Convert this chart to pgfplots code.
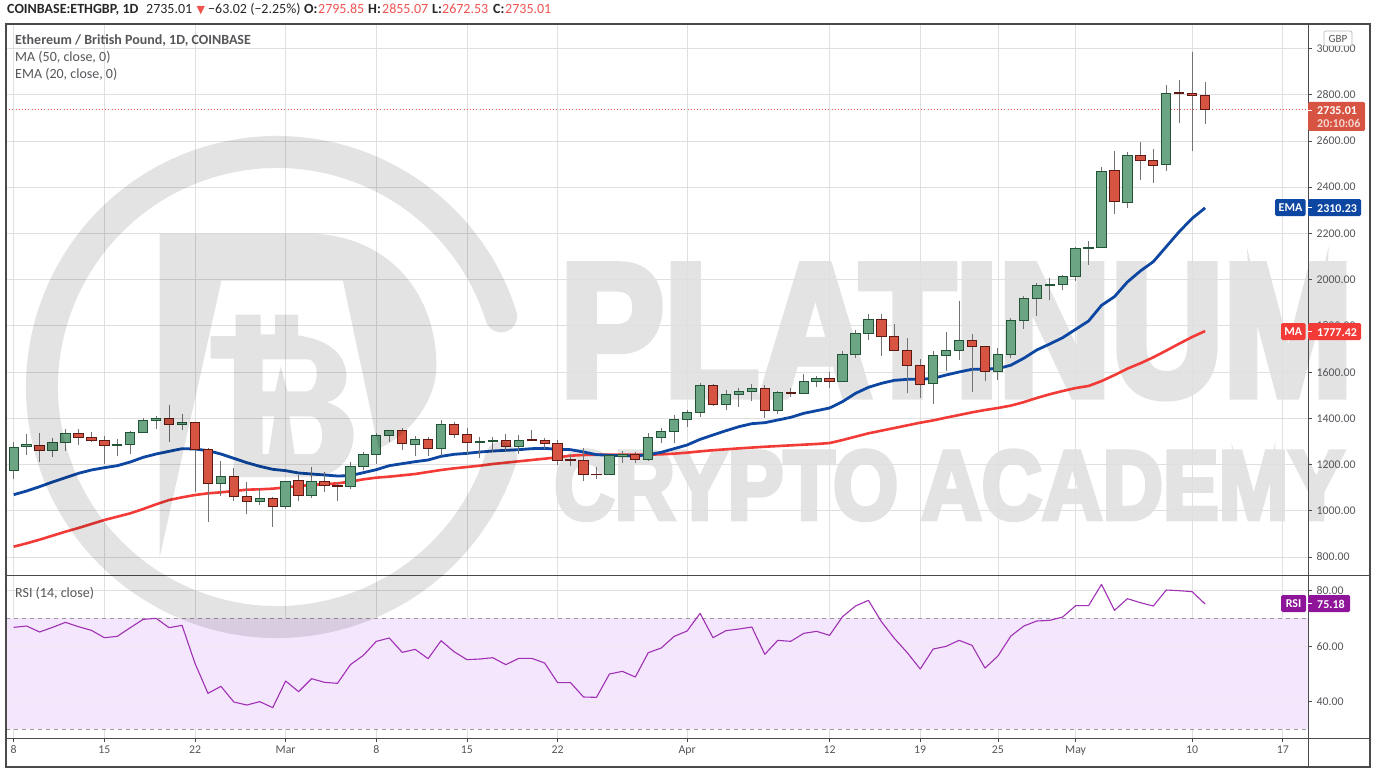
\documentclass[border=0pt]{standalone}
\usepackage{fontspec}
\setmainfont{Carlito}
\newfontfamily\wmfont{Liberation Sans}[FakeBold=5]
\newfontfamily\symfont{DejaVu Sans}
\usepackage{pgfplots}
\usepackage{pgfplotstable}
\pgfplotsset{compat=1.18}
\definecolor{upf}{HTML}{6BA583}
\definecolor{upd}{HTML}{225437}
\definecolor{dnf}{HTML}{D75442}
\definecolor{dnd}{HTML}{5B1A13}
\definecolor{wickc}{HTML}{737375}
\definecolor{gridc}{HTML}{E6E6E6}
\definecolor{framec}{HTML}{4A4A4D}
\definecolor{emac}{HTML}{0D47A1}
\definecolor{mac}{HTML}{F23B36}
\definecolor{rsic}{HTML}{8E1599}
\definecolor{rsil}{HTML}{A030B4}
\definecolor{bandc}{HTML}{F4E6FD}
\definecolor{txtc}{HTML}{55555A}
\definecolor{redt}{HTML}{EF5350}
\definecolor{wmc}{HTML}{E3E3E3}
\pgfplotstableread{
i o h l c
0 1175.0 1296.1 1137.5 1273.0
1 1278.8 1332.2 1242.8 1284.6
2 1283.1 1337.9 1212.5 1260.0
3 1261.5 1316.3 1231.2 1296.1
4 1296.1 1355.2 1260.0 1335.0
5 1335.0 1353.8 1283.1 1317.7
6 1317.7 1340.8 1299.0 1304.8
7 1304.8 1325.0 1203.8 1283.1
8 1283.1 1310.5 1238.4 1287.5
9 1287.5 1345.1 1247.1 1340.8
10 1339.4 1400.0 1339.4 1391.3
11 1391.3 1410.0 1355.2 1400.0
12 1400.0 1459.0 1297.5 1374.0
13 1374.0 1420.1 1349.5 1382.6
14 1382.6 1382.6 1082.7 1265.8
15 1264.4 1270.1 952.9 1118.7
16 1118.7 1215.3 1065.4 1149.0
17 1149.0 1185.1 1043.7 1062.5
18 1062.5 1124.5 987.5 1040.8
19 1040.8 1097.1 1026.4 1053.8
20 1053.8 1061.0 931.2 1019.2
21 1019.2 1127.4 1009.1 1127.4
22 1130.3 1154.8 1043.7 1066.8
23 1066.8 1190.8 1056.7 1127.4
24 1125.9 1166.3 1082.7 1110.1
25 1110.1 1121.6 1043.7 1105.7
26 1105.7 1209.6 1095.6 1190.8
27 1190.8 1255.7 1176.4 1244.2
28 1244.2 1335.0 1203.8 1326.4
29 1326.4 1348.0 1297.5 1348.0
30 1348.0 1358.1 1262.9 1291.8
31 1287.5 1323.5 1238.4 1309.1
32 1309.1 1320.6 1238.4 1270.1
33 1270.1 1392.7 1238.4 1374.0
34 1374.0 1382.6 1314.9 1330.7
35 1330.7 1359.6 1245.6 1296.1
36 1296.1 1320.6 1229.8 1300.4
37 1299.0 1320.6 1252.8 1303.3
38 1304.8 1330.7 1257.2 1278.8
39 1278.8 1327.8 1245.6 1304.8
40 1309.1 1349.5 1300.4 1303.3
41 1304.8 1316.3 1265.8 1291.8
42 1291.8 1306.2 1199.5 1218.2
43 1219.7 1244.2 1193.7 1216.8
44 1218.2 1270.1 1130.3 1156.2
45 1159.0 1190.8 1136.0 1156.2
46 1156.2 1237.0 1156.2 1237.0
47 1235.5 1258.6 1206.7 1244.2
48 1244.2 1255.7 1205.2 1221.1
49 1221.1 1335.0 1213.9 1317.7
50 1317.7 1356.7 1293.2 1343.7
51 1343.7 1414.4 1291.8 1395.6
52 1395.6 1435.9 1363.8 1425.8
53 1425.8 1554.2 1405.6 1542.7
54 1542.7 1548.4 1454.7 1460.5
55 1460.5 1522.5 1437.4 1503.7
56 1503.7 1532.6 1450.4 1516.7
57 1516.7 1548.4 1474.9 1529.7
58 1529.7 1544.1 1402.8 1434.5
59 1434.5 1518.1 1420.1 1512.4
60 1512.4 1532.6 1493.6 1506.6
61 1506.6 1591.7 1506.6 1560.0
62 1560.0 1583.0 1536.9 1573.0
63 1573.0 1600.4 1531.1 1560.0
64 1560.0 1691.2 1557.1 1676.8
65 1676.8 1780.6 1662.4 1767.6
66 1767.6 1852.7 1738.8 1828.2
67 1828.2 1851.3 1669.6 1754.7
68 1754.7 1808.0 1689.8 1692.7
69 1694.1 1747.4 1510.9 1629.2
70 1629.2 1656.6 1489.3 1547.0
71 1551.3 1691.2 1461.9 1672.5
72 1672.5 1774.9 1606.1 1694.1
73 1694.1 1909.0 1652.3 1737.4
74 1737.4 1764.8 1515.3 1711.4
75 1711.4 1711.4 1562.8 1603.2
76 1603.2 1704.2 1565.7 1676.8
77 1676.8 1832.5 1662.4 1823.9
78 1823.9 1929.2 1787.8 1919.1
79 1919.1 1986.9 1842.6 1975.3
80 1973.9 2008.5 1911.9 1979.7
81 1978.2 2020.0 1955.1 2015.7
82 2012.8 2142.6 1995.5 2135.4
83 2134.0 2167.2 2064.8 2136.9
84 2139.7 2487.3 2139.7 2468.6
85 2472.9 2558.0 2284.0 2338.8
86 2334.4 2550.8 2311.4 2537.8
87 2537.8 2596.9 2431.1 2516.2
88 2516.2 2565.2 2419.5 2494.5
89 2497.4 2842.1 2471.5 2806.0
90 2807.5 2863.7 2679.1 2804.6
91 2806.0 2984.9 2558.0 2796.0
92 2795.85 2855.07 2672.53 2735.01
}\candles
\pgfplotstableread{
i ema ma
0 1069.7 844.7
1 1085.5 859.1
2 1104.3 875.0
3 1124.5 892.3
4 1143.2 909.6
5 1162.0 925.5
6 1176.4 942.8
7 1186.5 960.0
8 1195.1 974.5
9 1211.0 988.9
10 1231.2 1007.7
11 1245.6 1027.9
12 1257.2 1046.6
13 1268.7 1058.1
14 1267.3 1068.2
15 1260.0 1075.5
16 1245.6 1079.8
17 1226.9 1085.5
18 1208.1 1091.3
19 1192.3 1092.8
20 1179.3 1095.6
21 1173.5 1101.4
22 1163.4 1107.2
23 1159.1 1111.5
24 1154.8 1115.8
25 1150.4 1118.7
26 1151.9 1125.9
27 1164.9 1136.0
28 1177.8 1143.2
29 1195.1 1147.6
30 1203.8 1153.3
31 1212.5 1159.1
32 1219.7 1167.8
33 1235.5 1176.4
34 1244.2 1183.6
35 1248.5 1189.4
36 1254.3 1195.1
37 1258.6 1202.4
38 1261.5 1208.1
39 1264.4 1213.9
40 1268.7 1219.7
41 1270.1 1225.4
42 1265.8 1231.2
43 1264.4 1238.4
44 1254.3 1241.3
45 1242.8 1242.8
46 1239.9 1242.8
47 1238.4 1242.8
48 1237.0 1242.8
49 1242.8 1242.8
50 1252.8 1244.2
51 1268.7 1247.1
52 1284.6 1251.4
53 1309.0 1257.0
54 1327.8 1262.0
55 1346.5 1266.0
56 1363.8 1270.0
57 1376.8 1273.5
58 1381.1 1277.0
59 1392.7 1280.0
60 1404.2 1283.0
61 1421.5 1286.0
62 1433.0 1289.0
63 1444.6 1293.0
64 1472.0 1306.0
65 1508.0 1320.6
66 1534.0 1335.0
67 1551.3 1346.5
68 1564.3 1358.0
69 1568.6 1369.6
70 1568.6 1381.0
71 1573.0 1391.0
72 1587.4 1403.0
73 1600.4 1414.3
74 1611.9 1425.8
75 1613.3 1436.0
76 1614.8 1444.6
77 1630.0 1455.0
78 1660.0 1470.0
79 1695.6 1488.0
80 1721.5 1504.0
81 1748.9 1518.0
82 1785.0 1531.0
83 1821.0 1540.0
84 1888.8 1561.0
85 1926.3 1587.0
86 1989.8 1615.0
87 2037.4 1638.0
88 2077.8 1664.0
89 2142.6 1693.0
90 2207.5 1723.0
91 2265.2 1752.0
92 2310.23 1777.42
}\averages
\pgfplotstableread{
i rsi
0 66.77
1 67.25
2 65.09
3 66.77
4 68.58
5 67.01
6 65.69
7 63.04
8 63.52
9 66.65
10 69.66
11 70.02
12 66.65
13 67.49
14 53.77
15 42.95
16 45.47
17 39.82
18 38.73
19 39.94
20 37.77
21 47.40
22 43.55
23 48.24
24 46.92
25 46.55
26 53.29
27 56.66
28 61.72
29 62.92
30 57.75
31 58.83
32 55.46
33 61.96
34 57.99
35 55.10
36 55.34
37 55.82
38 53.29
39 55.58
40 55.58
41 53.90
42 46.80
43 46.80
44 41.62
45 41.50
46 49.92
47 50.89
48 48.84
49 57.63
50 59.31
51 63.52
52 65.45
53 71.83
54 63.04
55 65.57
56 66.17
57 66.89
58 57.02
59 62.08
60 61.72
61 64.60
62 65.33
63 63.88
64 70.62
65 74.47
66 76.52
67 68.82
68 62.80
69 57.63
70 51.73
71 58.95
72 59.91
73 62.08
74 60.27
75 52.09
76 56.42
77 63.64
78 67.25
79 69.06
80 69.30
81 70.50
82 74.59
83 74.59
84 82.30
85 72.91
86 77.12
87 75.68
88 74.47
89 80.25
90 80.01
91 79.65
92 75.18
}\rsitable
\pgfplotsset{
  chartbase/.style={
    scale only axis, width=1302pt,
    xmin=-0.595, xmax=99.95,
    xtick={0,7,14,21,28,35,42,52,63,70,76,82,91,98},
    grid=major, major grid style={gridc!97!black,line width=0.8pt},
    axis line style={framec,line width=1pt},
    yticklabel pos=right, ytick pos=right,
    tick style={framec,line width=0.7pt},
    major tick length=4pt,
    tick align=outside,
    yticklabel style={font=\fontsize{11.8}{12}\selectfont, text=txtc, anchor=west, xshift=1pt,
      /pgf/number format/.cd, fixed, fixed zerofill, precision=2, 1000 sep={}, assume math mode=true},
    xticklabel style={font=\fontsize{11.8}{12}\selectfont, text=txtc},
    clip=true,
  },
  wick/.style={wickc,line width=0.9pt},
  upbody/.style={fill=upf,draw=upd,line width=1pt},
  dnbody/.style={fill=dnf,draw=dnd,line width=1pt},
}
\newcommand\tf[1]{\fontsize{#1}{#1}\selectfont}
\begin{document}
\begin{tikzpicture}
\path[use as bounding box] (0pt,0pt) rectangle (1376pt,-773pt);
% watermark lettering, beneath the chart
\begin{scope}[x=1pt,y=-1pt]
\node[anchor=south west,inner sep=0pt,text=wmc] at (560,397)
  {\resizebox{792pt}{129pt}{\wmfont\bfseries PLATINUM}};
\node[anchor=south west,inner sep=0pt,text=wmc] at (554,520)
  {\resizebox{790pt}{68pt}{\wmfont\bfseries CRYPTO ACADEMY}};
\end{scope}
\begin{axis}[chartbase,
  at={(6pt,-575pt)}, anchor=south west, height=551pt,
  ymin=722.1, ymax=3106,
  ytick={800,1000,...,3000},
  xticklabels={},
  xtick pos=bottom,
  major x tick style={draw=none},
]
\addplot[redt,dash pattern=on 1pt off 2.2pt,line width=1pt] coordinates {(-0.595,2735.01) (99.95,2735.01)};
\addplot[mac,line width=2.6pt,line join=round] table[x=i,y=ma] {\averages};
\addplot[emac,line width=2.8pt,line join=round] table[x=i,y=ema] {\averages};
\pgfplotsforeachungrouped \r in {0,...,92}{
  \pgfplotstablegetelem{\r}{i}\of\candles \let\ci\pgfplotsretval
  \pgfplotstablegetelem{\r}{o}\of\candles \let\co\pgfplotsretval
  \pgfplotstablegetelem{\r}{h}\of\candles \let\ch\pgfplotsretval
  \pgfplotstablegetelem{\r}{l}\of\candles \let\cl\pgfplotsretval
  \pgfplotstablegetelem{\r}{c}\of\candles \let\cc\pgfplotsretval
  \pgfmathsetmacro\xa{\ci-0.36}
  \pgfmathsetmacro\xb{\ci+0.36}
  \ifdim\cc pt<\co pt \def\bodystyle{dnbody}\else\def\bodystyle{upbody}\fi
  \edef\temp{\noexpand\addplot[wick] coordinates {(\ci,\ch) (\ci,\cl)};
    \noexpand\addplot[\bodystyle] coordinates {(\xa,\co) (\xb,\co) (\xb,\cc) (\xa,\cc)} --cycle;}
  \temp
}
\end{axis}
\begin{axis}[chartbase,
  at={(6pt,-738pt)}, anchor=south west, height=163pt,
  ymin=26.82, ymax=85.67,
  ytick={40,60,80},
  xtick pos=bottom,
  xticklabels={8,15,22,Mar,8,15,22,Apr,12,19,25,May,10,17},
]
\addplot[fill=bandc,draw=none] coordinates {(-0.595,30) (99.95,30) (99.95,70) (-0.595,70)} --cycle;
\addplot[gridc!70!rsil!30,line width=0.8pt] coordinates {(-0.595,40) (99.95,40)};
\addplot[gridc!70!rsil!30,line width=0.8pt] coordinates {(-0.595,60) (99.95,60)};
\addplot[black!40,dash pattern=on 4pt off 4pt,line width=0.8pt] coordinates {(-0.595,70) (99.95,70)};
\addplot[black!40,dash pattern=on 4pt off 4pt,line width=0.8pt] coordinates {(-0.595,30) (99.95,30)};
\addplot[rsil,line width=1.1pt,line join=round] table[x=i,y=rsi] {\rsitable};
\end{axis}
% frame
\draw[framec,line width=1.1pt] (6pt,-24pt) rectangle (1370pt,-767pt);
\draw[framec,line width=1pt] (6pt,-575pt) -- (1370pt,-575pt);
\draw[framec,line width=1pt] (6pt,-738pt) -- (1370pt,-738pt);
\draw[framec,line width=1pt] (1308pt,-24pt) -- (1308pt,-767pt);
% watermark logo
\draw[black,opacity=.11,line width=32pt,line cap=round]
  ([shift={(17.5:235pt)}]277pt,-387pt) arc[start angle=17.5,end angle=342.5,radius=235pt];
\begin{scope}[x=1pt,y=-1pt]
\fill[black,opacity=.11]
  (159.6,233.6) -- (307,233.6) .. controls (385,233.6) and (436.4,290) .. (436.4,366.4)
  .. controls (436.4,400) and (410,435) .. (378.6,448.6)
  -- (342.9,280.7) -- (221.4,280.7) -- (159.6,557.5) -- cycle;
\fill[black,opacity=.11,even odd rule]
  (210.7,336) -- (235.7,336) -- (235.7,314.6) -- (260.7,314.6) -- (260.7,334.3)
  -- (275,334.3) -- (275,314.6) -- (298.2,314.6) -- (298.2,335.4)
  .. controls (330,340) and (346.4,355) .. (346.4,377)
  .. controls (346.4,390) and (338,400) .. (326.8,402.1)
  .. controls (345,408) and (353.6,420) .. (353.6,434)
  .. controls (353.6,460) and (335,477) .. (310.7,477)
  -- (233.9,477) -- (233.9,358.6) -- (210.7,358.6) -- cycle
  (262.5,359.3) -- (307,359.3) .. controls (322,359.3) and (317.9,391.4) .. (307,391.4) -- (262.5,391.4) -- cycle
  (262.5,416.4) -- (310.7,416.4) .. controls (326,416.4) and (326,454) .. (310.7,454) -- (262.5,454) -- cycle
  (280.7,366.4) -- (275,391.4) -- (287.5,391.4) -- cycle
  (274.3,416.4) -- (289.3,416.4) -- (294.6,454) -- (268.6,454) -- cycle;
% header
\tikzset{t/.style={anchor=base west,inner sep=0pt}}
\node[t,font=\tf{14}\bfseries,text=black!85] at (7,14) {COINBASE:ETHGBP, 1D};
\node[t,font=\tf{14},text=black!85] at (146,14) {2735.01};
\node[t,font=\symfont\tf{11},text=redt] at (196.5,14) {▼};
\node[t,font=\tf{14},text=black!85] at (208,14) {−63.02 (−2.25\%)};
\node[t,font=\tf{14}\bfseries,text=black!85] at (304,14) {O:};
\node[t,font=\tf{14},text=redt] at (318,14) {2795.85};
\node[t,font=\tf{14}\bfseries,text=black!85] at (368,14) {H:};
\node[t,font=\tf{14},text=redt] at (382,14) {2855.07};
\node[t,font=\tf{14}\bfseries,text=black!85] at (432,14) {L:};
\node[t,font=\tf{14},text=redt] at (442,14) {2672.53};
\node[t,font=\tf{14}\bfseries,text=black!85] at (493,14) {C:};
\node[t,font=\tf{14},text=redt] at (505,14) {2735.01};
% legends
\node[t,font=\tf{14}\bfseries,text=txtc] at (15,45) {Ethereum / British Pound, 1D, COINBASE};
\node[t,font=\tf{14},text=txtc] at (15,62) {MA (50, close, 0)};
\node[t,font=\tf{14},text=txtc] at (15,79) {EMA (20, close, 0)};
\node[t,font=\tf{14},text=txtc] at (15,597) {RSI (14, close)};
% GBP box
\draw[gridc!80!black,fill=white,rounded corners=2pt,line width=.7pt] (1324,31) rectangle (1352,46);
\node[font=\tf{11},text=txtc,inner sep=0pt] at (1338,38.5) {GBP};
% tags
\fill[dnf,rounded corners=1.5pt] (1308,102) rectangle (1365,131);
\draw[white,line width=.8pt] (1308,110.5) -- (1312,110.5);
\node[t,font=\tf{12}\bfseries,text=white] at (1317,114.5) {2735.01};
\node[t,font=\tf{12}\bfseries,text=white!75!dnf] at (1317,127.5) {20:10:06};
\fill[emac,rounded corners=1.5pt] (1275,199) rectangle (1305.7,216);
\fill[emac,rounded corners=1.5pt] (1308,199) rectangle (1361,216);
\draw[white,line width=.8pt] (1308,207.5) -- (1312,207.5);
\node[t,font=\tf{12}\bfseries,text=white] at (1317,212) {2310.23};
\node[font=\tf{12}\bfseries,text=white,inner sep=0pt] at (1290.5,207.5) {EMA};
\fill[mac,rounded corners=1.5pt] (1281,323) rectangle (1305.7,340);
\fill[mac,rounded corners=1.5pt] (1308,323) rectangle (1361,340);
\draw[white,line width=.8pt] (1308,331.5) -- (1312,331.5);
\node[t,font=\tf{12}\bfseries,text=white] at (1317,336) {1777.42};
\node[font=\tf{12}\bfseries,text=white,inner sep=0pt] at (1293.3,331.5) {MA};
\fill[rsic,rounded corners=1.5pt] (1281,595) rectangle (1306,612);
\fill[rsic,rounded corners=1.5pt] (1308,595) rectangle (1350,612);
\draw[white,line width=.8pt] (1308,603.5) -- (1312,603.5);
\node[t,font=\tf{12}\bfseries,text=white] at (1317,608) {75.18};
\node[font=\tf{12}\bfseries,text=white,inner sep=0pt] at (1293.5,603.5) {RSI};
\end{scope}
\end{tikzpicture}
\end{document}
